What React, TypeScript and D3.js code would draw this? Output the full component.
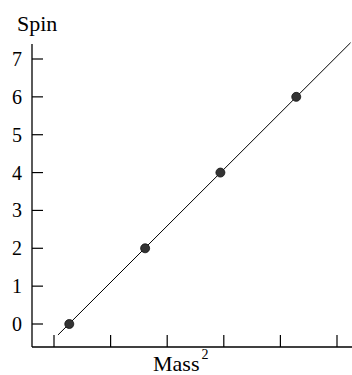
import React from "react";
import * as d3 from "d3";

const massSq = [1.27, 2.61, 3.94, 5.28];
const spin = [0, 2, 4, 6];
const yTicks = [0, 1, 2, 3, 4, 5, 6, 7];
const xTicks = [1, 2, 3, 4, 5, 6];
const lineMass = [1.07, 6.24];
const lineSpin = [-0.29, 7.43];

export default function App() {
  const W = 352, H = 375;
  const x = d3.scaleLinear().domain([1, 6]).range([54, 337]);
  const y = d3.scaleLinear().domain([0, 7]).range([324, 59]);
  const axisX = 32, axisBottom = 347, axisTop = 44;
  const font = "Liberation Serif, DejaVu Serif, serif";
  const line = d3.line<number>().x((d, i) => x(lineMass[i])).y((d) => y(d));
  return (
    <svg width={W} height={H} style={{ position: "absolute", left: 0, top: 0, fontFamily: font }}>
      <line x1={axisX} x2={axisX} y1={axisTop} y2={axisBottom} stroke="#000" strokeWidth={1.3} />
      <line x1={axisX} x2={W} y1={axisBottom} y2={axisBottom} stroke="#000" strokeWidth={1.3} />
      {yTicks.map((t) => (
        <g key={"y" + t}>
          <line x1={axisX} x2={axisX + 11} y1={y(t)} y2={y(t)} stroke="#000" strokeWidth={1.2} />
          <text x={axisX - 10} y={y(t)} dy="0.35em" textAnchor="end" fontSize={20} style={{ fontFamily: font }}>{t}</text>
        </g>
      ))}
      {xTicks.map((t) => (
        <line key={"x" + t} x1={x(t)} x2={x(t)} y1={axisBottom} y2={axisBottom - 12} stroke="#000" strokeWidth={1.2} />
      ))}
      <path d={line(lineSpin) || ""} fill="none" stroke="#000" strokeWidth={1} />
      {massSq.map((m, i) => (
        <circle key={"p" + i} cx={x(m)} cy={y(spin[i])} r={4.5} fill="#333" stroke="#111" strokeWidth={0.8} />
      ))}
      <text x={17} y={31} fontSize={22} style={{ fontFamily: font }}>Spin</text>
      <text x={153} y={371} fontSize={22} style={{ fontFamily: font }}>Mass<tspan dx={2} dy={-12} fontSize={14}>2</tspan></text>
    </svg>
  );
}
